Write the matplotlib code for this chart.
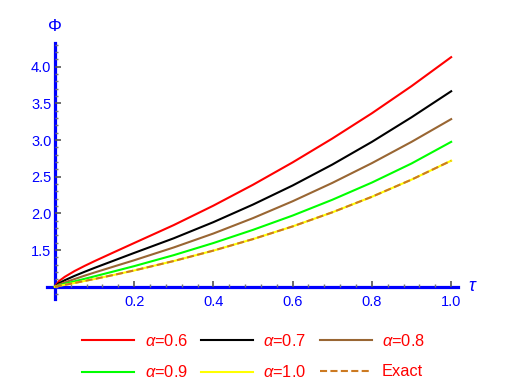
import matplotlib
matplotlib.use("Agg")
import matplotlib.pyplot as plt
from matplotlib.ticker import MultipleLocator, FixedLocator

plt.rcParams['font.family'] = ['Liberation Sans', 'DejaVu Sans']
plt.rcParams['mathtext.fontset'] = 'custom'
plt.rcParams['mathtext.rm'] = 'Liberation Sans'
plt.rcParams['mathtext.it'] = 'Liberation Sans:italic'

# ---- data ----
tau = [0.0, 0.01, 0.025, 0.05, 0.075, 0.1, 0.15, 0.2, 0.3, 0.4, 0.5, 0.6, 0.7, 0.8, 0.9, 1.0]
phi_a06 = [1.0, 1.074, 1.134, 1.214, 1.283, 1.348, 1.472, 1.595, 1.84, 2.105, 2.39, 2.695, 3.02, 3.365, 3.735, 4.13]
phi_a07 = [1.0, 1.045, 1.088, 1.148, 1.203, 1.256, 1.358, 1.46, 1.66, 1.88, 2.12, 2.38, 2.665, 2.975, 3.31, 3.665]
phi_a08 = [1.0, 1.028, 1.058, 1.104, 1.15, 1.193, 1.277, 1.36, 1.535, 1.725, 1.935, 2.165, 2.415, 2.685, 2.975, 3.285]
phi_a09 = [1.0, 1.016, 1.039, 1.073, 1.107, 1.141, 1.21, 1.28, 1.43, 1.595, 1.775, 1.97, 2.185, 2.42, 2.68, 2.975]
phi_a10 = [1.0, 1.01, 1.025, 1.051, 1.078, 1.105, 1.162, 1.221, 1.35, 1.492, 1.649, 1.822, 2.014, 2.226, 2.46, 2.718]
phi_exact = [1.0, 1.01, 1.025, 1.051, 1.078, 1.105, 1.162, 1.221, 1.35, 1.492, 1.649, 1.822, 2.014, 2.226, 2.46, 2.718]

labels = [r'$\alpha$=0.6', r'$\alpha$=0.7', r'$\alpha$=0.8',
          r'$\alpha$=0.9', r'$\alpha$=1.0', 'Exact']
colors = ['#ff0000', '#000000', '#996633', '#00ff00', '#ffff00', '#cc7a22']

x_major = [0.2, 0.4, 0.6, 0.8, 1.0]
y_major = [1.5, 2.0, 2.5, 3.0, 3.5, 4.0]

W, H = 509, 384
fig = plt.figure(figsize=(W / 100, H / 100), dpi=100)
ax = fig.add_axes([46.7 / W, 1 - 299.3 / H, (458.3 - 46.7) / W, (299.3 - 43.3) / H])

series = [phi_a06, phi_a07, phi_a08, phi_a09, phi_a10]
handles = []
for s, c, l in zip(series, colors[:5], labels[:5]):
    h, = ax.plot(tau, s, color=c, lw=1.5, label=l, solid_joinstyle='round')
    handles.append(h)
h, = ax.plot(tau, phi_exact, color=colors[5], lw=1.5, ls=(0, (3.4, 1.6)), label=labels[5])
handles.append(h)

ax.set_xlim(-0.0205, 1.018)
ax.set_ylim(0.828, 4.319)

blue = '#0000ff'
for sp in ['top', 'right']:
    ax.spines[sp].set_visible(False)
ax.spines['left'].set_position(('data', 0))
ax.spines['bottom'].set_position(('data', 1))
for sp in ['left', 'bottom']:
    ax.spines[sp].set_color(blue)
    ax.spines[sp].set_linewidth(2.3)
    ax.spines[sp].set_zorder(1)

ax.xaxis.set_major_locator(FixedLocator(x_major))
ax.yaxis.set_major_locator(FixedLocator(y_major))
ax.xaxis.set_minor_locator(MultipleLocator(0.04))
ax.yaxis.set_minor_locator(MultipleLocator(0.1))
ax.set_xticklabels(['%.1f' % v for v in x_major])
ax.set_yticklabels(['%.1f' % v for v in y_major])
ax.tick_params(which='major', direction='in', length=4, width=1.2, color='#555555',
               labelcolor=blue, labelsize=10.5)
ax.tick_params(which='minor', direction='in', length=2.5, width=1.0, color='#777777')
ax.tick_params(axis='x', which='major', pad=6)
ax.tick_params(axis='y', which='major', pad=2.5)

fig.text(55 / W, 1 - 26.7 / H, 'Φ', color=blue, fontsize=12.5, ha='center', va='center')
fig.text(472.7 / W, 1 - 286.7 / H, r'$\tau$', color=blue, fontsize=13, ha='center', va='center')

order = [0, 3, 1, 4, 2, 5]
leg = fig.legend([handles[i] for i in order], [labels[i] for i in order], ncol=3,
                 loc='center', bbox_to_anchor=(253.5 / W, 1 - 356.7 / H),
                 frameon=False, fontsize=11.8, handlelength=3.2, handletextpad=0.62,
                 columnspacing=0.8, labelspacing=0.95, borderpad=0)
for t in leg.get_texts():
    t.set_color('#ff0000')

fig.savefig('out.png', dpi=100)
